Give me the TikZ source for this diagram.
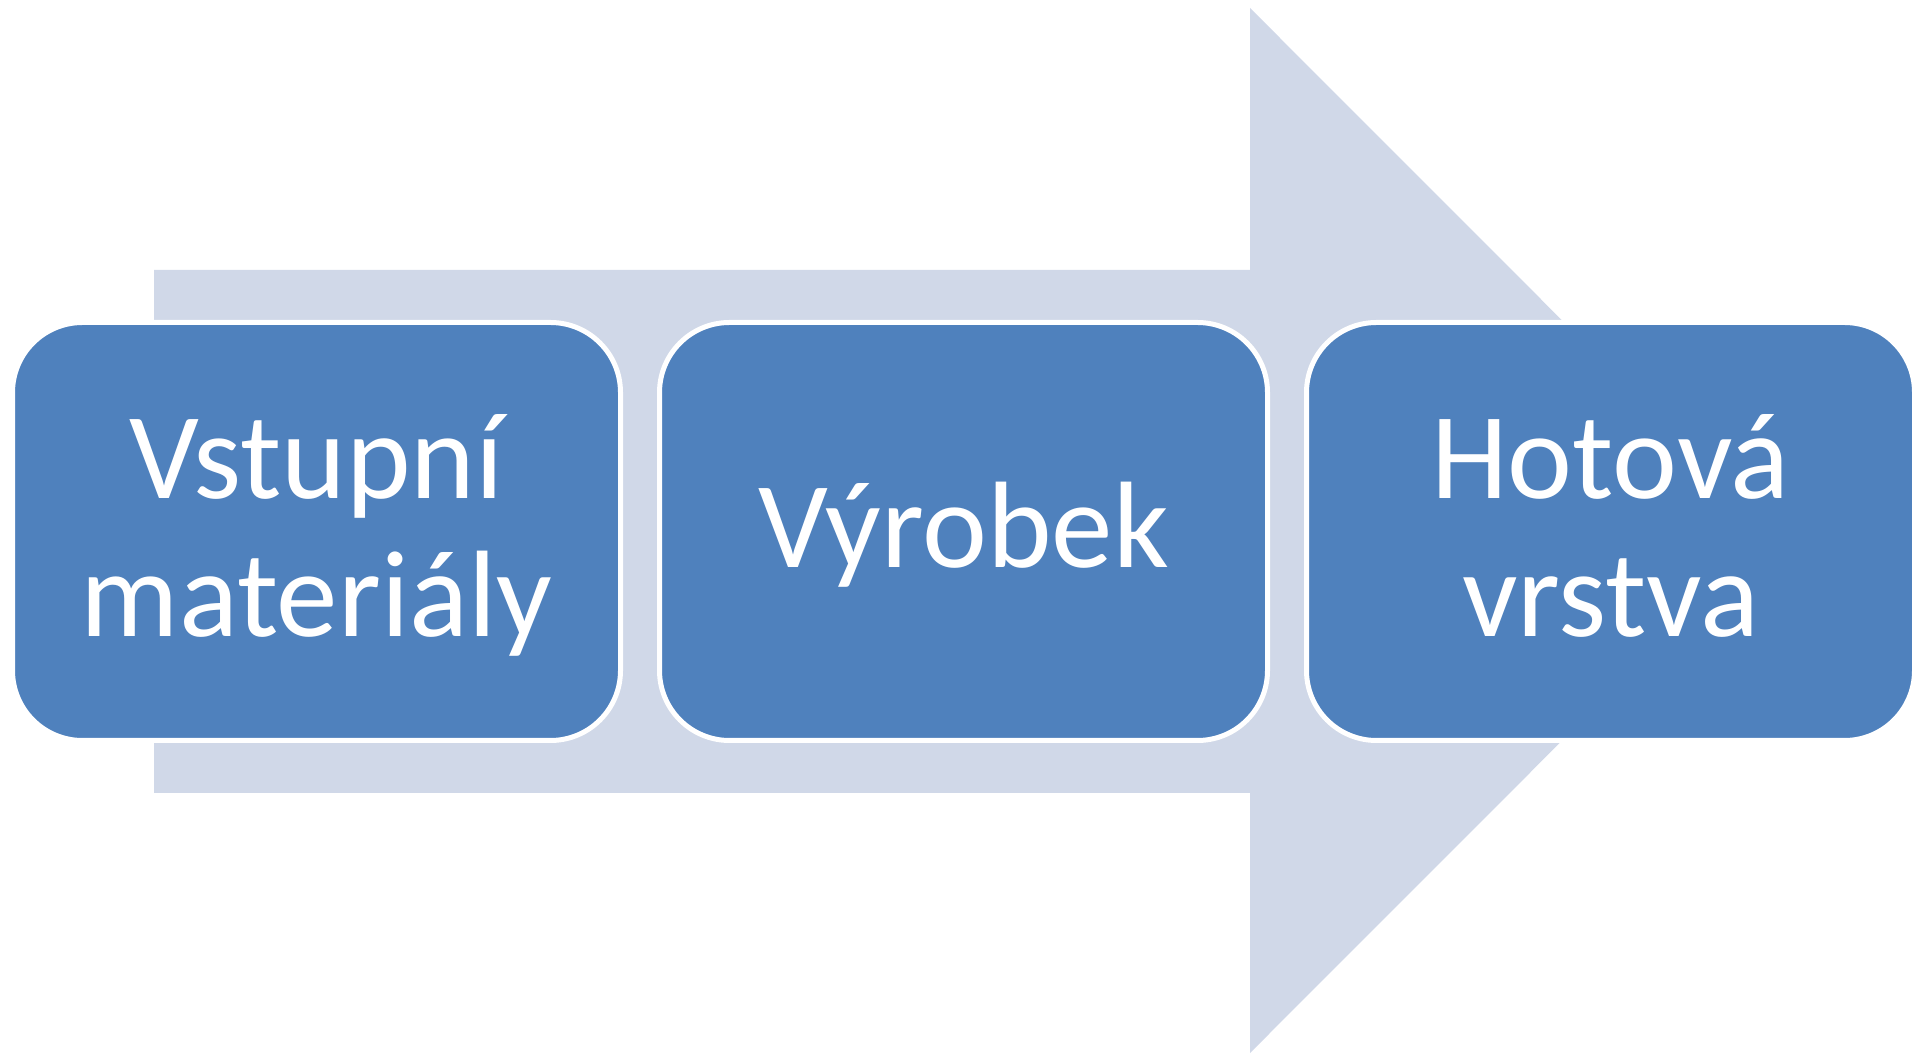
\documentclass[tikz,border=0pt]{standalone}
\usepackage{fontspec}
\setmainfont{Carlito}
\definecolor{arrowgray}{HTML}{D0D8E8}
\definecolor{boxblue}{HTML}{4F81BD}
\newcommand{\mystrut}{\rule[-30pt]{0pt}{132pt}}
\begin{document}
\begin{tikzpicture}[x=1pt,y=1pt,
  stepbox/.style={draw=white,line width=5pt,fill=boxblue,rounded corners=70pt,
    minimum width=608pt,minimum height=418pt,inner sep=0pt,
    text=white,align=center,font=\fontsize{123}{138}\selectfont}]
\useasboundingbox (0,0) rectangle (1927,1055);
\fill[arrowgray] (154,262) -- (154,785) -- (1250,785) -- (1250,1047) -- (1772,524.5) -- (1250,2) -- (1250,262) -- cycle;
\node[stepbox] (b1) at (316.5,523.5) {\mystrut Vstupní\\\mystrut materiály};
\node[stepbox] (b2) at (963.5,523.5) {\mystrut Výrobek};
\node[stepbox] (b3) at (1610.5,523.5) {\mystrut Hotová\\\mystrut vrstva};
\end{tikzpicture}
\end{document}
